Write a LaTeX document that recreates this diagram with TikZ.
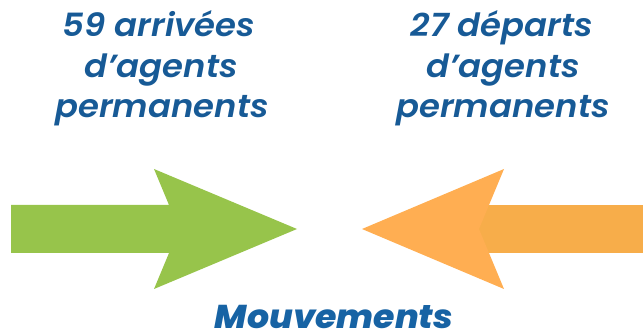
\documentclass[tikz,border=0pt]{standalone}
\usepackage{fontspec}
\IfFontExistsTF{Poppins SemiBold Italic}
  {\newfontfamily\topfont{Poppins SemiBold Italic}[FakeStretch=1.06]}
  {\newfontfamily\topfont{Poppins}[UprightFont=*-BoldItalic,FakeStretch=1.06]}
\IfFontExistsTF{Poppins ExtraBold Italic}
  {\newfontfamily\botfont{Poppins ExtraBold Italic}[FakeStretch=1.05]}
  {\newfontfamily\botfont{Poppins}[UprightFont=*-BoldItalic,FakeStretch=1.05]}
\definecolor{txtblue}{HTML}{175A96}
\definecolor{botblue}{HTML}{1763A4}
\definecolor{agreen}{HTML}{97C44B}
\definecolor{ahead}{HTML}{FFAE52}
\definecolor{ashaft}{HTML}{F7AD4A}
\begin{document}
\begin{tikzpicture}[x=1pt,y=1pt,
  toptext/.style={font=\topfont\fontsize{32}{32}\selectfont, text=txtblue, inner sep=0pt, anchor=base},
  bottext/.style={font=\botfont\fontsize{33}{33}\selectfont, text=botblue, inner sep=0pt, anchor=base, text depth=0pt}]
\useasboundingbox (0,0) rectangle (643,335);
% left text (image y -> 335 - y)
\node[toptext] (l1) at (159,298) {59 arrivées};
\node[toptext] (l2) at (161,257.5) {d’agents};
\node[toptext] (l3) at (162,217.5) {permanents};
% right text
\node[toptext] (r1) at (502,298) {27 départs};
\node[toptext] (r2) at (503,257.5) {d’agents};
\node[toptext] (r3) at (503,217.5) {permanents};
% green arrow
\fill[agreen] (11,130) -- (169,130) -- (154,166) -- (297,106) -- (154,46) -- (169,82) -- (11,82) -- cycle;
% orange arrow
\fill[ashaft] (479,130) rectangle (643,82);
\fill[ahead] (362,106) -- (504,166) -- (479,106) -- (504,46) -- cycle;
% bottom label
\node[bottext] (m) at (334,6) {Mouvements};
\end{tikzpicture}
\end{document}
